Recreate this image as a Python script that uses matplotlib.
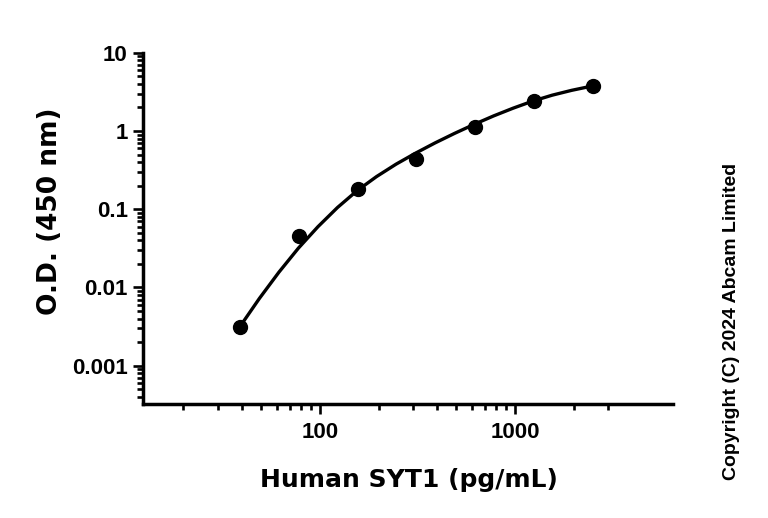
import matplotlib
matplotlib.use('Agg')
import matplotlib.pyplot as plt
from matplotlib.ticker import FixedLocator, LogLocator, NullFormatter

# standard points (pg/mL) and O.D.
conc = [39.06, 78.13, 156.25, 312.5, 625, 1250, 2500]
od = [0.0031, 0.0458, 0.1795, 0.442, 1.123, 2.44, 3.75]

# fitted curve, points
curve_x = [38.9, 49.0, 61.7, 77.6, 97.7, 123.0, 154.9, 195.0, 245.5, 309.0,
           389.0, 489.8, 616.6, 776.2, 977.2, 1230, 1549, 1950, 2495]
curve_y = [0.00315, 0.00725, 0.0157, 0.0318, 0.0597, 0.1050, 0.172, 0.2610,
           0.376, 0.520, 0.703, 0.931, 1.213, 1.556, 1.954, 2.404, 2.864,
           3.304, 3.758]

x_major = [100, 1000]
x_labels = ['100', '1000']
x_minor = [20, 30, 40, 50, 60, 70, 80, 90,
           200, 300, 400, 500, 600, 700, 800, 900, 2000, 3000]
y_major = [0.001, 0.01, 0.1, 1, 10]
y_labels = ['0.001', '0.01', '0.1', '1', '10']

tick_font = dict(fontfamily='Liberation Sans', fontweight='bold', fontsize=16)

fig = plt.figure(figsize=(7.68, 5.18), dpi=100)
ax = fig.add_axes([0.1862, 0.2210, 0.6905, 0.6773])

ax.plot(curve_x, curve_y, color='black', linewidth=2.4, solid_capstyle='round', zorder=2)
ax.plot(conc, od, 'o', color='black', markersize=10, zorder=3)

ax.set_xscale('log')
ax.set_yscale('log')
ax.set_xlim(12.41, 6465)
ax.set_ylim(0.000329, 10)

ax.set_xticks(x_major, x_labels, **tick_font)
ax.xaxis.set_minor_locator(FixedLocator(x_minor))
ax.xaxis.set_minor_formatter(NullFormatter())

ax.set_yticks(y_major, y_labels, **tick_font)
ax.yaxis.set_minor_locator(LogLocator(base=10, subs=[2, 3, 4, 5, 6, 7, 8, 9], numticks=20))
ax.yaxis.set_minor_formatter(NullFormatter())

for side in ['top', 'right']:
    ax.spines[side].set_visible(False)
for side in ['left', 'bottom']:
    ax.spines[side].set_linewidth(2.5)

ax.tick_params(which='major', length=7, width=1.9, direction='out', pad=4)
ax.tick_params(which='minor', length=4.3, width=1.9, direction='out')
ax.tick_params(axis='x', which='major', pad=6)

fig.text(409 / 768, 1 - 486.7 / 518, 'Human SYT1 (pg/mL)', ha='center', va='baseline',
         fontsize=18, fontweight='bold', family='DejaVu Sans')
fig.text(57 / 768, 1 - 211.5 / 518, 'O.D. (450 nm)', ha='center', va='baseline',
         rotation=90, rotation_mode='anchor',
         fontsize=19, fontweight='bold', family='DejaVu Sans')
fig.text(731 / 768, 1 - 321 / 518, 'Copyright (C) 2024 Abcam Limited', ha='center', va='center',
         rotation=90, fontsize=14, fontweight='bold', family='Liberation Sans')

fig.savefig('out.png', dpi=100)
